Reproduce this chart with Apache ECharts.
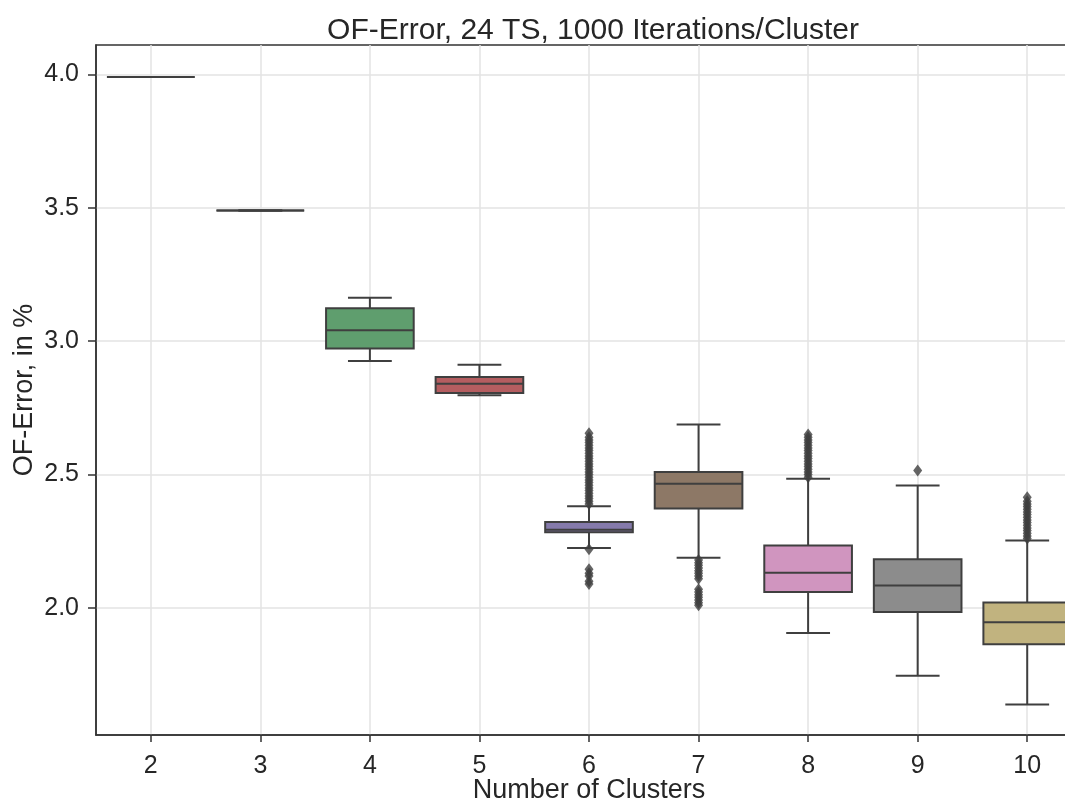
<!DOCTYPE html>
<html>
<head>
<meta charset="utf-8">
<script src="https://cdn.jsdelivr.net/npm/echarts@6/dist/echarts.min.js"></script>
<style>
  html, body { margin: 0; padding: 0; background: #fff; overflow: hidden; }
  /* plot runs past the right edge in the reference: wider canvas, clipped by the wrapper */
  #wrap { width: 1065px; height: 803px; overflow: hidden; position: relative; }
  #main { width: 1082px; height: 803px; }
</style>
</head>
<body>
<div id="wrap"><div id="main"></div></div>
<script>
// data
const clusters = ['2', '3', '4', '5', '6', '7', '8', '9', '10']
const whiskerLow = [3.99, 3.49, 2.926, 2.797, 2.225, 2.188, 1.906, 1.746, 1.638]
const q1 = [3.99, 3.49, 2.973, 2.806, 2.284, 2.373, 2.06, 1.985, 1.864]
const median = [3.99, 3.49, 3.041, 2.84, 2.293, 2.466, 2.132, 2.084, 1.947]
const q3 = [3.99, 3.49, 3.123, 2.866, 2.322, 2.51, 2.234, 2.183, 2.021]
const whiskerHigh = [3.99, 3.49, 3.163, 2.912, 2.381, 2.688, 2.484, 2.459, 2.253]
const boxColors = ['#5975a4', '#cc8963', '#5f9e6e', '#b55d60', '#857aab', '#8d7866', '#d095bf', '#8c8c8c', '#c1b37f']

// outliers per cluster
const outliers6 = [2.39, 2.40, 2.41, 2.42, 2.43, 2.44, 2.45, 2.46, 2.47, 2.48, 2.49, 2.50, 2.51, 2.52, 2.53,
  2.54, 2.55, 2.56, 2.57, 2.58, 2.59, 2.60, 2.61, 2.62, 2.63, 2.64, 2.655, 2.22, 2.145, 2.13, 2.12, 2.10, 2.09]
const outliers7 = [2.18, 2.17, 2.16, 2.15, 2.14, 2.13, 2.12, 2.11, 2.07, 2.06, 2.05, 2.04, 2.03, 2.02, 2.01]
const outliers8 = [2.49, 2.50, 2.51, 2.52, 2.53, 2.54, 2.55, 2.56, 2.57, 2.58, 2.59, 2.60, 2.61, 2.62, 2.63, 2.64, 2.65]
const outliers9 = [2.515]
const outliers10 = [2.26, 2.27, 2.28, 2.29, 2.30, 2.31, 2.32, 2.33, 2.34, 2.35, 2.36, 2.37, 2.38, 2.39, 2.40, 2.415]

const yTicks = [2.0, 2.5, 3.0, 3.5, 4.0]
const xTicks = [0, 1, 2, 3, 4, 5, 6, 7, 8] // positions of the cluster labels

const edgeColor = '#3f3f3f'
const textColor = '#262626'
const font = 'Liberation Sans, Arial, sans-serif'

const boxData = clusters.map((c, i) => ({
  value: [i, whiskerLow[i], q1[i], median[i], q3[i], whiskerHigh[i]],
  itemStyle: { color: boxColors[i] }
}))

const outlierData = []
;[[4, outliers6], [5, outliers7], [6, outliers8], [7, outliers9], [8, outliers10]].forEach(([idx, arr]) => {
  arr.forEach(v => outlierData.push([idx, v]))
})

function renderBox(params, api) {
  const x = api.value(0)
  const w = api.size([1, 0])[0] * 0.8
  const lo = api.coord([x, api.value(1)])
  const b1 = api.coord([x, api.value(2)])
  const md = api.coord([x, api.value(3)])
  const b3 = api.coord([x, api.value(4)])
  const hi = api.coord([x, api.value(5)])
  const cx = lo[0]
  const line = { stroke: edgeColor, lineWidth: 2 }
  return {
    type: 'group',
    children: [
      { type: 'line', shape: { x1: cx, y1: lo[1], x2: cx, y2: b1[1] }, style: line },
      { type: 'line', shape: { x1: cx, y1: b3[1], x2: cx, y2: hi[1] }, style: line },
      { type: 'line', shape: { x1: cx - w / 4, y1: lo[1], x2: cx + w / 4, y2: lo[1] }, style: line },
      { type: 'line', shape: { x1: cx - w / 4, y1: hi[1], x2: cx + w / 4, y2: hi[1] }, style: line },
      {
        type: 'rect',
        shape: { x: cx - w / 2, y: b3[1], width: w, height: b1[1] - b3[1] },
        style: { fill: api.visual('color'), stroke: edgeColor, lineWidth: 2 }
      },
      { type: 'line', shape: { x1: cx - w / 2, y1: md[1], x2: cx + w / 2, y2: md[1] }, style: line }
    ]
  }
}

const chart = echarts.init(document.getElementById('main'))
chart.setOption({
  animation: false,
  backgroundColor: '#fff',
  textStyle: { fontFamily: font },
  title: {
    text: 'OF-Error, 24 TS, 1000 Iterations/Cluster',
    left: 588,
    textAlign: 'center',
    top: 11,
    textStyle: { fontSize: 30, fontWeight: 'normal', color: textColor, fontFamily: font }
  },
  grid: {
    left: 96,
    right: 0,
    top: 45,
    bottom: 68,
    outerBoundsMode: 'none',
    show: true,
    borderColor: '#333',
    borderWidth: 1.5
  },
  xAxis: {
    type: 'value',
    min: -0.5,
    max: 8.5,
    name: 'Number of Clusters',
    nameLocation: 'middle',
    nameGap: 42,
    nameMoveOverlap: false,
    nameTextStyle: { fontSize: 27, color: textColor },
    axisLine: { show: true, onZero: false, lineStyle: { color: '#333', width: 1.5 } },
    axisTick: { show: true, length: 7, customValues: xTicks, lineStyle: { color: '#333', width: 1.5 } },
    axisLabel: {
      fontSize: 25,
      color: textColor,
      margin: 19,
      customValues: xTicks,
      formatter: v => clusters[Math.round(v)]
    },
    splitLine: { show: true, lineStyle: { color: '#e3e3e3', width: 1.5 } }
  },
  yAxis: {
    type: 'value',
    min: 1.524,
    max: 4.11,
    name: 'OF-Error, in %',
    nameLocation: 'middle',
    nameGap: 58,
    nameMoveOverlap: false,
    nameTextStyle: { fontSize: 27, color: textColor },
    axisLine: { show: true, onZero: false, lineStyle: { color: '#333', width: 1.5 } },
    axisTick: { show: true, length: 8, customValues: yTicks, lineStyle: { color: '#333', width: 1.5 } },
    axisLabel: {
      fontSize: 25,
      color: textColor,
      margin: 17,
      customValues: yTicks,
      formatter: v => v.toFixed(1)
    },
    splitLine: { show: true, lineStyle: { color: '#e3e3e3', width: 1.5 } }
  },
  series: [
    {
      name: 'box',
      type: 'custom',
      renderItem: renderBox,
      encode: { x: 0, y: [1, 2, 3, 4, 5] },
      data: boxData,
      z: 3
    },
    {
      name: 'outliers',
      type: 'scatter',
      symbol: 'diamond',
      symbolSize: [9, 12],
      itemStyle: { color: edgeColor },
      data: outlierData,
      z: 4
    }
  ]
})
</script>
</body>
</html>
